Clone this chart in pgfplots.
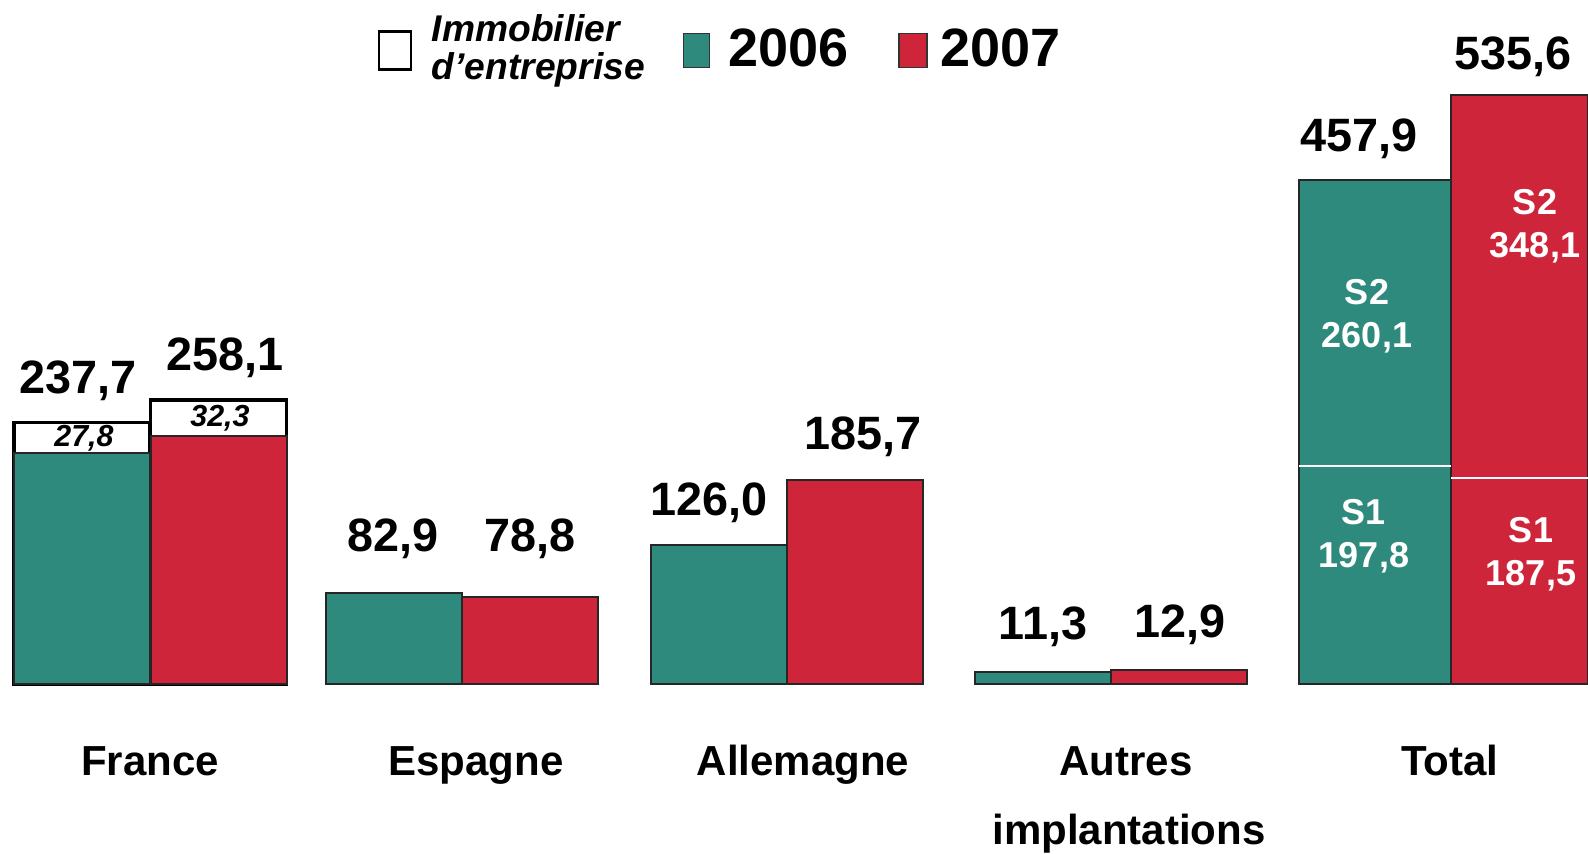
\documentclass[border=0pt]{standalone}
\usepackage{pgfplots}
\pgfplotsset{compat=1.18}
\usepackage{fontspec}
\setmainfont{Liberation Sans}

\definecolor{vert}{RGB}{46,138,125}
\definecolor{rouge}{RGB}{206,37,58}

% one pixel of the original = 0.25pt
\newcommand{\valfont}{\bfseries\fontsize{11.7}{13}\selectfont}
\newcommand{\catfont}{\bfseries\fontsize{10.5}{12}\selectfont}
\newcommand{\infont}{\bfseries\fontsize{9}{10.8}\selectfont}
\newcommand{\boxfont}{\bfseries\itshape\fontsize{7.6}{8}\selectfont}

\begin{document}
\begin{tikzpicture}
\begin{axis}[
    scale only axis, width=397pt, height=213.5pt,
    xmin=0, xmax=1588, ymin=-154.5, ymax=621.8,
    hide axis, clip=false,
    barre/.style={ybar, bar shift=0pt, bar width=#1, line width=0.5pt, draw=black!85},
    legend columns=3,
    legend cell align=left,
    legend style={at={(axis cs:377,576)}, anchor=west, draw=none, fill=none,
        inner sep=0pt, nodes={inner sep=0pt},
        /tikz/column 2/.style={column sep=9.5pt},
        /tikz/column 4/.style={column sep=12.5pt}},
]
% Immobilier d'entreprise (white box on top of France bars)
\addplot[barre=136, fill=white, draw=black, line width=0.8pt, forget plot] coordinates {(82,237.7) (218.5,258.1)};
% 2006
\addplot[barre=136, fill=vert, forget plot] coordinates {(82,209.9) (394,82.9) (719,126.0) (1043,11.3)};
\addplot[barre=152, fill=vert, forget plot] coordinates {(1375,457.9)};
% 2007
\addplot[barre=136, fill=rouge, forget plot] coordinates {(218.5,225.8) (530,78.8) (854.5,185.7) (1178.5,12.9)};
\addplot[barre=137, fill=rouge, forget plot] coordinates {(1519.5,535.6)};
% S1 / S2 split of the totals
\addplot[white, line width=0.5pt, no markers, forget plot] coordinates {(1299,197.8) (1451,197.8)};
\addplot[white, line width=0.5pt, no markers, forget plot] coordinates {(1451,187.5) (1588,187.5)};

\addlegendimage{legend image code/.code={\draw[black, line width=0.6pt, fill=white] (0pt,-4.75pt) rectangle (8pt,4.75pt); \path (13pt,0pt);}}
\addlegendentry[align=left, font=\bfseries\itshape\fontsize{9.3}{9.5}\selectfont]{Immobilier\\d’entreprise}
\addlegendimage{legend image code/.code={\draw[black!80, line width=0.4pt, fill=vert] (0pt,-4.25pt) rectangle (6.5pt,4.25pt); \path (11pt,0pt);}}
\addlegendentry[font=\bfseries\fontsize{13.5}{15}\selectfont]{2006}
\addlegendimage{legend image code/.code={\draw[black!80, line width=0.4pt, fill=rouge] (0pt,-4.25pt) rectangle (7pt,4.25pt); \path (10pt,0pt);}}
\addlegendentry[font=\bfseries\fontsize{13.5}{15}\selectfont]{2007}

% values above the bars
\node[font=\valfont, anchor=base] at (axis cs:78,264.1) {237,7};
\node[font=\valfont, anchor=base] at (axis cs:225,285) {258,1};
\node[font=\valfont, anchor=base] at (axis cs:393,120.5) {82,9};
\node[font=\valfont, anchor=base] at (axis cs:530,120.5) {78,8};
\node[font=\valfont, anchor=base] at (axis cs:709,153.2) {126,0};
\node[font=\valfont, anchor=base] at (axis cs:863,213.2) {185,7};
\node[font=\valfont, anchor=base] at (axis cs:1043,40.5) {11,3};
\node[font=\valfont, anchor=base] at (axis cs:1180,42.3) {12,9};
\node[font=\valfont, anchor=base] at (axis cs:1359,484.1) {457,9};
\node[font=\valfont, anchor=base] at (axis cs:1513,558.6) {535,6};

% values inside the boxes
\node[font=\boxfont] at (axis cs:84,223.3) {27,8};
\node[font=\boxfont] at (axis cs:220,241.5) {32,3};
\node[font=\infont, text=white, align=center] at (axis cs:1367,334) {S2\\260,1};
\node[font=\infont, text=white, align=center] at (axis cs:1364,134) {S1\\197,8};
\node[font=\infont, text=white, align=center] at (axis cs:1535,416) {S2\\348,1};
\node[font=\infont, text=white, align=center] at (axis cs:1531,118) {S1\\187,5};

% categories
\node[font=\catfont, anchor=base] at (axis cs:150,-83.6) {France};
\node[font=\catfont, anchor=base] at (axis cs:476,-83.6) {Espagne};
\node[font=\catfont, anchor=base] at (axis cs:803,-83.6) {Allemagne};
\node[font=\catfont, anchor=base] at (axis cs:1126,-83.6) {Autres};
\node[font=\catfont, anchor=base] at (axis cs:1129,-146) {implantations};
\node[font=\catfont, anchor=base] at (axis cs:1450,-83.6) {Total};
\end{axis}
\pgfresetboundingbox
\useasboundingbox (current axis.south west) rectangle (current axis.north east);
\end{tikzpicture}
\end{document}
